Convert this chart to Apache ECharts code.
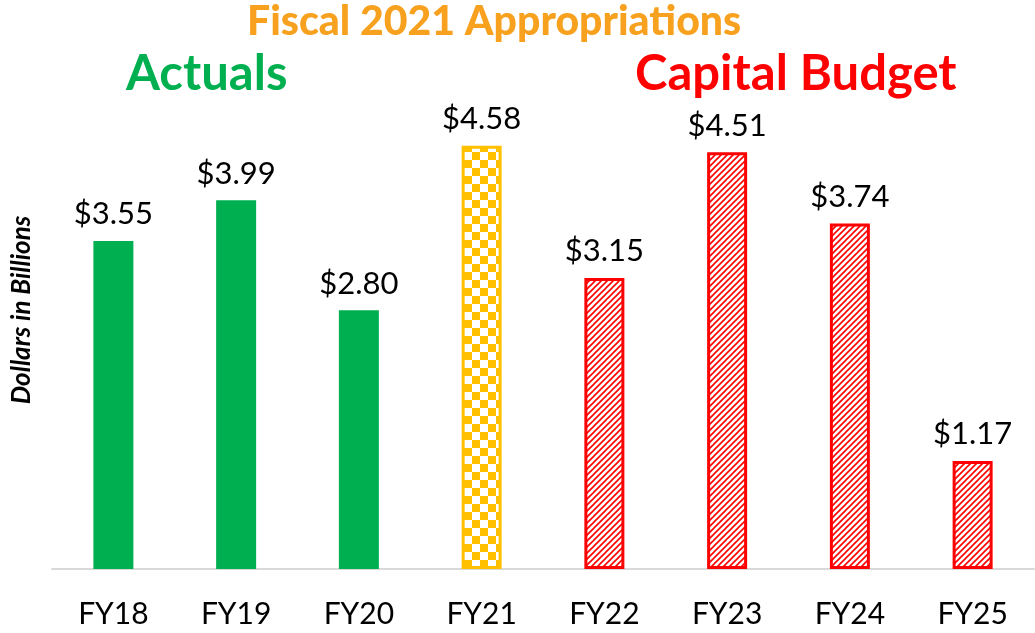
<!DOCTYPE html>
<html>
<head>
<meta charset="utf-8">
<script src="https://cdn.jsdelivr.net/npm/echarts@6/dist/echarts.min.js"></script>
<style>
html,body{margin:0;padding:0;background:#fff;}
#chart{width:1035px;height:633px;}
</style>
</head>
<body>
<div id="chart"></div>
<script>
var years = ['FY18', 'FY19', 'FY20', 'FY21', 'FY22', 'FY23', 'FY24', 'FY25'];
var amounts = [3.55, 3.99, 2.80, 4.58, 3.15, 4.51, 3.74, 1.17];
// 0 = actual, 1 = appropriation, 2 = capital budget
var kinds = [0, 0, 0, 1, 2, 2, 2, 2];

var GREEN = '#00B050', GOLD = '#FFC000', RED = '#FF0000';

function checkerTile(){
    var c = document.createElement('canvas');
    c.width = 16; c.height = 16;
    var ctx = c.getContext('2d');
    ctx.fillStyle = '#fff';
    ctx.fillRect(0, 0, 16, 16);
    ctx.fillStyle = GOLD;
    ctx.fillRect(0, 0, 8, 8);
    ctx.fillRect(8, 8, 8, 8);
    return c;
}
function hatchTile(){
    var c = document.createElement('canvas');
    c.width = 6; c.height = 6;
    var ctx = c.getContext('2d');
    ctx.fillStyle = '#fff';
    ctx.fillRect(0, 0, 6, 6);
    ctx.strokeStyle = RED;
    ctx.lineWidth = 1.6;
    ctx.beginPath();
    ctx.moveTo(-1, 7); ctx.lineTo(7, -1);
    ctx.moveTo(-1, 1); ctx.lineTo(1, -1);
    ctx.moveTo(5, 7); ctx.lineTo(7, 5);
    ctx.stroke();
    return c;
}

var checker = {image: checkerTile(), repeat: 'repeat'};
var hatch = {image: hatchTile(), repeat: 'repeat'};

var barData = amounts.map(function(v, i){
    var st;
    if (kinds[i] === 0) st = {color: GREEN};
    else if (kinds[i] === 1) st = {color: checker, borderColor: GOLD, borderWidth: 3};
    else st = {color: hatch, borderColor: RED, borderWidth: 3};
    return {value: v, itemStyle: st};
});

var chart = echarts.init(document.getElementById('chart'));
chart.setOption({
    backgroundColor: '#fff',
    animation: false,
    grid: {left: 52, right: 1, top: 107, bottom: 64},
    xAxis: {
        type: 'category',
        data: years,
        axisTick: {show: false},
        axisLine: {lineStyle: {color: '#D9D9D9', width: 2}},
        axisLabel: {color: '#000', fontSize: 30, fontFamily: 'Lato', margin: 30}
    },
    yAxis: {
        type: 'value',
        min: 0,
        max: 5,
        show: false
    },
    series: [{
        type: 'bar',
        data: barData,
        barWidth: 40,
        label: {
            show: true,
            position: 'top',
            distance: 11,
            color: '#000',
            fontSize: 31,
            fontFamily: 'Lato',
            formatter: function(p){ return '$' + p.value.toFixed(2); }
        }
    }],
    graphic: [
        {type: 'text', left: 247, top: 1,
         style: {text: 'Fiscal 2021 Appropriations', fill: '#F7A11E', fontSize: 41, fontWeight: 900, fontFamily: 'Lato'}},
        {type: 'text', left: 126, top: 50,
         style: {text: 'Actuals', fill: GREEN, fontSize: 49, fontWeight: 'bold', fontFamily: 'Lato'}},
        {type: 'text', left: 635, top: 50,
         style: {text: 'Capital Budget', fill: RED, fontSize: 49, fontWeight: 'bold', fontFamily: 'Lato'}},
        {type: 'text', x: 22, y: 310, rotation: Math.PI / 2,
         style: {text: 'Dollars in Billions', fill: '#000', fontSize: 26, fontWeight: 'bold', fontStyle: 'italic', fontFamily: 'Lato', align: 'center', verticalAlign: 'middle'}}
    ]
});
</script>
</body>
</html>
